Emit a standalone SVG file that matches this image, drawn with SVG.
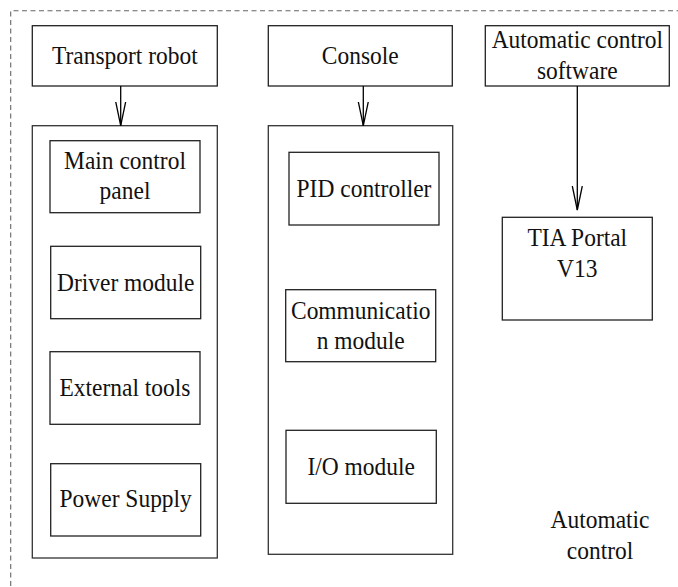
<svg xmlns="http://www.w3.org/2000/svg" width="678" height="587" viewBox="0 0 678 587">
<style>
.b{fill:#fff;stroke:#222;stroke-width:1.3}
.c{fill:none;stroke:#333;stroke-width:1.3}
.t{font-family:"Liberation Serif","Times New Roman",Times,serif;font-size:25.5px;fill:#111;text-anchor:middle}
.e{fill:none;stroke:#000;stroke-width:1.3}
</style>
<defs>
<marker id="v" markerWidth="26" markerHeight="12" refX="24" refY="6" orient="auto" markerUnits="userSpaceOnUse" viewBox="0 0 26 12">
<path d="M0,1 L24,6 L0,11" fill="none" stroke="#000" stroke-width="1.3"/>
</marker>
</defs>
<rect width="678" height="587" fill="#fff"/>
<path d="M690,10.7 H10.7 V600" fill="none" stroke="#666" stroke-width="1.1" stroke-dasharray="5,3.5"/>
<g id="transport-robot"><rect class="b" x="32.3" y="25.7" width="185" height="60.3"/><text class="t" transform="translate(124.8,64.3) scale(0.92,1)">Transport robot</text></g>
<g id="console"><rect class="b" x="268.3" y="25.7" width="184" height="60.3"/><text class="t" transform="translate(360.3,64.3) scale(0.92,1)">Console</text></g>
<g id="software"><rect class="b" x="485.3" y="25.7" width="184" height="60.3"/><text class="t" transform="translate(577.3,47.7) scale(0.92,1)">Automatic control</text><text class="t" transform="translate(577.3,79) scale(0.92,1)">software</text></g>
<g id="robot-group"><rect class="c" x="32.3" y="125.7" width="185" height="432.3"/></g>
<g id="main-control-panel"><rect class="b" x="50" y="140.7" width="150" height="72"/><text class="t" transform="translate(125,169) scale(0.92,1)">Main control</text><text class="t" transform="translate(125,199) scale(0.92,1)">panel</text></g>
<g id="driver-module"><rect class="b" x="50.7" y="246.3" width="150" height="72.4"/><text class="t" transform="translate(125.7,290.7) scale(0.92,1)">Driver module</text></g>
<g id="external-tools"><rect class="b" x="50" y="351.7" width="150" height="72.6"/><text class="t" transform="translate(125,396) scale(0.92,1)">External tools</text></g>
<g id="power-supply"><rect class="b" x="50.7" y="463.7" width="150" height="72.3"/><text class="t" transform="translate(125.7,507) scale(0.92,1)">Power Supply</text></g>
<g id="console-group"><rect class="c" x="268.3" y="125.7" width="184.4" height="428.6"/></g>
<g id="pid-controller"><rect class="b" x="289" y="152.3" width="150" height="72.7"/><text class="t" transform="translate(364,197.3) scale(0.92,1)">PID controller</text></g>
<g id="communication-module"><rect class="b" x="285.7" y="289.7" width="150" height="72"/><text class="t" transform="translate(360.7,318.7) scale(0.92,1)">Communicatio</text><text class="t" transform="translate(360.7,349.3) scale(0.92,1)">n module</text></g>
<g id="io-module"><rect class="b" x="286" y="430.3" width="150.3" height="73"/><text class="t" transform="translate(361.2,475) scale(0.92,1)">I/O module</text></g>
<g id="tia-portal"><rect class="b" x="502.3" y="217.3" width="150" height="102.7"/><text class="t" transform="translate(577.3,246) scale(0.92,1)">TIA Portal</text><text class="t" transform="translate(577.3,276.7) scale(0.92,1)">V13</text></g>
<g id="label-automatic-control"><text class="t" transform="translate(600,528.3) scale(0.92,1)">Automatic</text><text class="t" transform="translate(600,559) scale(0.92,1)">control</text></g>
<g id="connectors">
<line class="e" x1="120.7" y1="86" x2="120.7" y2="125.7" marker-end="url(#v)"/>
<line class="e" x1="363.3" y1="86" x2="363.3" y2="125.7" marker-end="url(#v)"/>
<line class="e" x1="577.3" y1="86" x2="577.3" y2="210" marker-end="url(#v)"/>
</g>
</svg>
